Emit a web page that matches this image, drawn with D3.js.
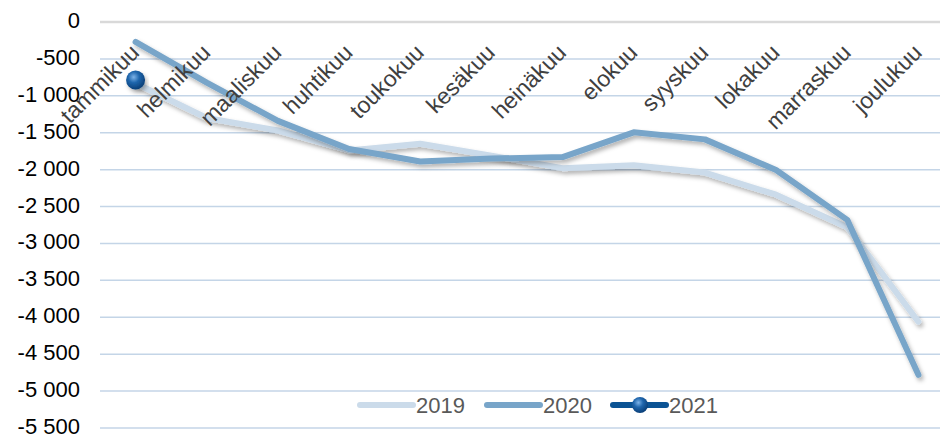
<!DOCTYPE html>
<html>
<head>
<meta charset="utf-8">
<script src="https://cdn.jsdelivr.net/npm/d3@7"></script>
<style>
  body { margin: 0; background: #fff; }
  svg text { font-family: "Liberation Sans", Arial, sans-serif; }
</style>
</head>
<body>
<div id="chart"></div>
<script>
// Months (Finnish)
var months = ["tammikuu", "helmikuu", "maaliskuu", "huhtikuu", "toukokuu", "kesäkuu",
              "heinäkuu", "elokuu", "syyskuu", "lokakuu", "marraskuu", "joulukuu"];

// Series values
var v2019 = [-830, -1300, -1470, -1740, -1650, -1810, -1980, -1940, -2040, -2340, -2780, -4060];
var v2020 = [-270, -820, -1340, -1720, -1890, -1850, -1830, -1495, -1590, -2005, -2680, -4780];
var v2021 = [-786];

var yTicks = [0, -500, -1000, -1500, -2000, -2500, -3000, -3500, -4000, -4500, -5000, -5500];

var width = 940, height = 438;

var svg = d3.select("#chart").append("svg")
    .attr("width", width)
    .attr("height", height);

var defs = svg.append("defs");

// drop shadow for the lines
var shadow = defs.append("filter")
    .attr("id", "shadow")
    .attr("x", "-10%").attr("y", "-10%")
    .attr("width", "130%").attr("height", "140%");
shadow.append("feDropShadow")
    .attr("dx", 2).attr("dy", 3)
    .attr("stdDeviation", 2)
    .attr("flood-color", "#000")
    .attr("flood-opacity", 0.3);

// shiny marker
var grad = defs.append("radialGradient")
    .attr("id", "ball")
    .attr("cx", "40%").attr("cy", "35%").attr("r", "65%");
grad.append("stop").attr("offset", "0%").attr("stop-color", "#7db3e8");
grad.append("stop").attr("offset", "45%").attr("stop-color", "#1f66ad");
grad.append("stop").attr("offset", "100%").attr("stop-color", "#0a3f78");

// Scales
var x = d3.scalePoint()
    .domain(months)
    .range([100, 954])
    .padding(0.5);

var y = d3.scaleLinear()
    .domain([-5500, 0])
    .range([428, 22]);

var locale = d3.formatLocale({
    decimal: ",", thousands: " ", grouping: [3], currency: ["", ""], minus: "-"
});
var fmt = locale.format(",d");

// Gridlines
var grid = svg.append("g");
grid.selectAll("line")
    .data(yTicks)
    .enter().append("line")
    .attr("x1", 100)
    .attr("x2", width)
    .attr("y1", d => y(d))
    .attr("y2", d => y(d))
    .attr("stroke", d => d === 0 ? "#d9d9d9" : "#c4d5e7")
    .attr("stroke-width", d => d === 0 ? 2.5 : 1.5);

// Y axis labels
var yAxis = d3.axisLeft(y)
    .tickValues(yTicks)
    .tickFormat(fmt)
    .tickSize(0)
    .tickPadding(0);

svg.append("g")
    .attr("transform", "translate(80,0)")
    .call(yAxis)
    .call(g => g.select(".domain").remove())
    .call(g => g.selectAll("text")
        .attr("font-size", 22)
        .attr("fill", "#000")
        .attr("dy", "0.25em"));

// Lines
var line = d3.line()
    .x((d, i) => x(months[i]))
    .y(d => y(d));

var series = [
    { name: "2019", values: v2019, color: "#cbdbea" },
    { name: "2020", values: v2020, color: "#78a5c9" }
];

svg.append("g")
    .selectAll("path")
    .data(series)
    .enter().append("path")
    .attr("d", d => line(d.values))
    .attr("fill", "none")
    .attr("stroke", d => d.color)
    .attr("stroke-width", 6)
    .attr("stroke-linejoin", "round")
    .attr("stroke-linecap", "round")
    .attr("filter", "url(#shadow)");

// 2021 marker
svg.append("g")
    .selectAll("circle")
    .data(v2021)
    .enter().append("circle")
    .attr("cx", (d, i) => x(months[i]))
    .attr("cy", d => y(d))
    .attr("r", 9.5)
    .attr("fill", "url(#ball)")
    .attr("filter", "url(#shadow)");

// Month labels, rotated, drawn over the lines
svg.append("g")
    .selectAll("text")
    .data(months)
    .enter().append("text")
    .attr("transform", d => "translate(" + (x(d) + 5) + ",54) rotate(-45)")
    .attr("text-anchor", "end")
    .attr("font-size", 23)
    .attr("fill", "#404040")
    .text(d => d);

// Legend
var legendItems = [
    { name: "2019", color: "#cbdbea", x: 360, marker: false },
    { name: "2020", color: "#78a5c9", x: 487, marker: false },
    { name: "2021", color: "#0b5394", x: 613, marker: true }
];

var legend = svg.append("g")
    .selectAll("g")
    .data(legendItems)
    .enter().append("g")
    .attr("transform", d => "translate(" + d.x + ",405)");

legend.append("line")
    .attr("x1", 0).attr("x2", 53)
    .attr("stroke", d => d.color)
    .attr("stroke-width", 6)
    .attr("stroke-linecap", "round");

legend.filter(d => d.marker).append("circle")
    .attr("cx", 27)
    .attr("r", 8)
    .attr("fill", "url(#ball)");

legend.append("text")
    .attr("x", 56)
    .attr("dy", "0.36em")
    .attr("font-size", 22)
    .attr("fill", "#595959")
    .text(d => d.name);
</script>
</body>
</html>
